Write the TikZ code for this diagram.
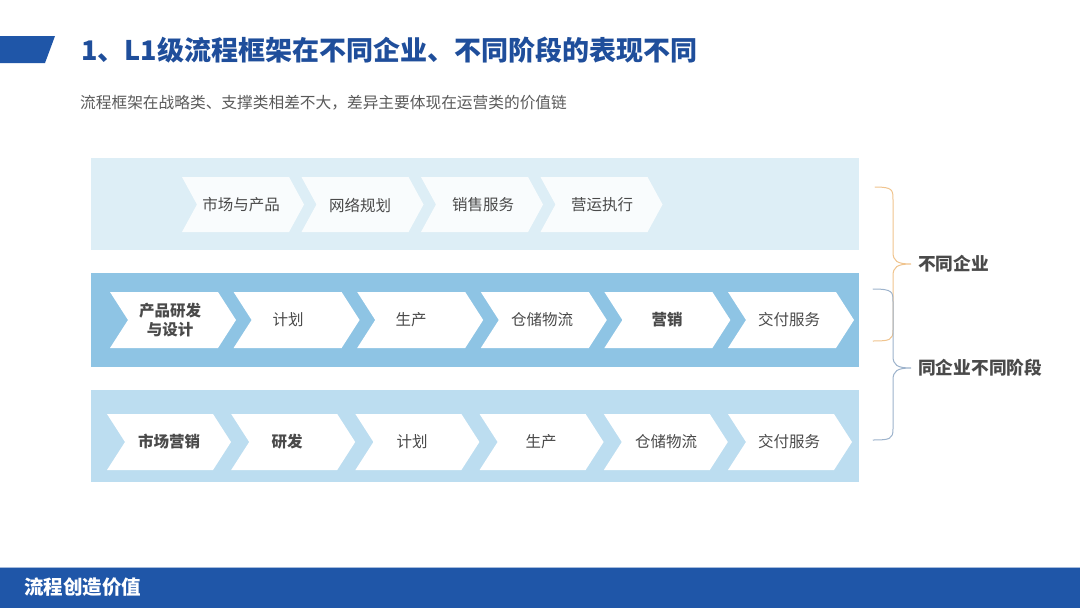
\documentclass[tikz,border=0pt]{standalone}
\usepackage{fontspec}
\setmainfont{Noto Sans CJK SC}
\definecolor{titleblue}{HTML}{1F4E9B}
\definecolor{barblue}{HTML}{1F56A8}
\definecolor{boxA}{HTML}{DDEEF6}
\definecolor{boxB}{HTML}{8EC4E4}
\definecolor{boxC}{HTML}{BCDDF0}
\definecolor{txtgray}{HTML}{4A4A4A}
\definecolor{subgray}{HTML}{5A5A5A}
\definecolor{braceorange}{HTML}{F0C48E}
\definecolor{braceblue}{HTML}{9DB3CC}
\newcommand{\chevshape}[6]{%
  \fill[#6] (#1,#2-#4) -- (#1+#3-#5,#2-#4) -- (#1+#3,#2) -- (#1+#3-#5,#2+#4)
    -- (#1,#2+#4) -- (#1+#5,#2) -- cycle;}
\tikzset{
  lbl/.style={text=txtgray, font=\fontsize{15.5}{19}\selectfont, align=center, inner sep=0pt},
  blbl/.style={lbl, font=\fontsize{15.5}{19}\selectfont\bfseries},
  side/.style={text=txtgray, font=\fontsize{17.7}{20}\selectfont\bfseries, anchor=west, inner sep=0pt},
  bracestyle/.style={line width=1pt, line cap=round}
}
\begin{document}
\begin{tikzpicture}[x=1pt,y=-1pt]
\useasboundingbox (0,0) rectangle (1080,608);
\fill[white] (0,0) rectangle (1080,608);
% header
\fill[barblue] (0,36) -- (55,36) -- (45,63) -- (0,63) -- cycle;
\node[anchor=west, inner sep=0pt, text=titleblue, font=\fontsize{27}{30}\selectfont\bfseries] (title) at (81,50) {1、L1级流程框架在不同企业、不同阶段的表现不同};
\node[anchor=west, inner sep=0pt, text=subgray, font=\fontsize{15.7}{18}\selectfont] (sub) at (80,103) {流程框架在战略类、支撑类相差不大，差异主要体现在运营类的价值链};
% boxes
\fill[boxA] (91,158) rectangle (859,250);
\fill[boxB] (91,273) rectangle (859,367);
\fill[boxC] (91,390) rectangle (859,482);
% row 1
\foreach \i in {0,1,2,3} {\chevshape{182+119.5*\i}{204.5}{122}{27.5}{15}{white,opacity=0.85}}
\node[lbl] (a1) at (241,205) {市场与产品};
\node[lbl] (a2) at (360,205) {网络规划};
\node[lbl] (a3) at (483,205) {销售服务};
\node[lbl] (a4) at (602,205) {营运执行};
% row 2
\foreach \i in {0,...,5} {\chevshape{110+123.6*\i}{320}{126}{28}{18}{white}}
\node[blbl] (b1) at (170,320) {产品研发\\与设计};
\node[lbl] (b2) at (288,320) {计划};
\node[lbl] (b3) at (411,320) {生产};
\node[lbl] (b4) at (542,320) {仓储物流};
\node[blbl] (b5) at (667,320) {营销};
\node[lbl] (b6) at (789,320) {交付服务};
% row 3
\foreach \i in {0,...,5} {\chevshape{107+124.2*\i}{442}{124}{28}{18}{white}}
\node[blbl] (c1) at (169,442) {市场营销};
\node[blbl] (c2) at (287,442) {研发};
\node[lbl] (c3) at (412,442) {计划};
\node[lbl] (c4) at (541,442) {生产};
\node[lbl] (c5) at (666,442) {仓储物流};
\node[lbl] (c6) at (789,442) {交付服务};
% side labels
\node[side] (s1) at (918,264) {不同企业};
\node[side] (s2) at (918,368) {同企业不同阶段};
\coordinate (t1) at (911,264);
\coordinate (t2) at (911,368);
% braces
\draw[bracestyle, braceorange] (875,187) .. controls (893,187) and (893,190) .. (893,200) -- (893,252)
  .. controls (893,261) and (897,264) .. (t1)
  .. controls (897,264) and (893,267) .. (893,276) -- (893,330)
  .. controls (893,340) and (890,341) .. (873,341);
\draw[bracestyle, braceblue] (873,289) .. controls (893,289) and (893,292) .. (893,302) -- (893,356)
  .. controls (893,365) and (897,368) .. (t2)
  .. controls (897,368) and (893,371) .. (893,380) -- (893,429)
  .. controls (893,439) and (890,440) .. (873,440);
% footer
\fill[barblue] (0,567) rectangle (1080,608);
\draw[line width=1pt, color=barblue!40] (0,567) -- (1080,567);
\node[anchor=west, inner sep=0pt, text=white, font=\fontsize{19.5}{22}\selectfont\bfseries] (foot) at (24,587) {流程创造价值};
\end{tikzpicture}
\end{document}
